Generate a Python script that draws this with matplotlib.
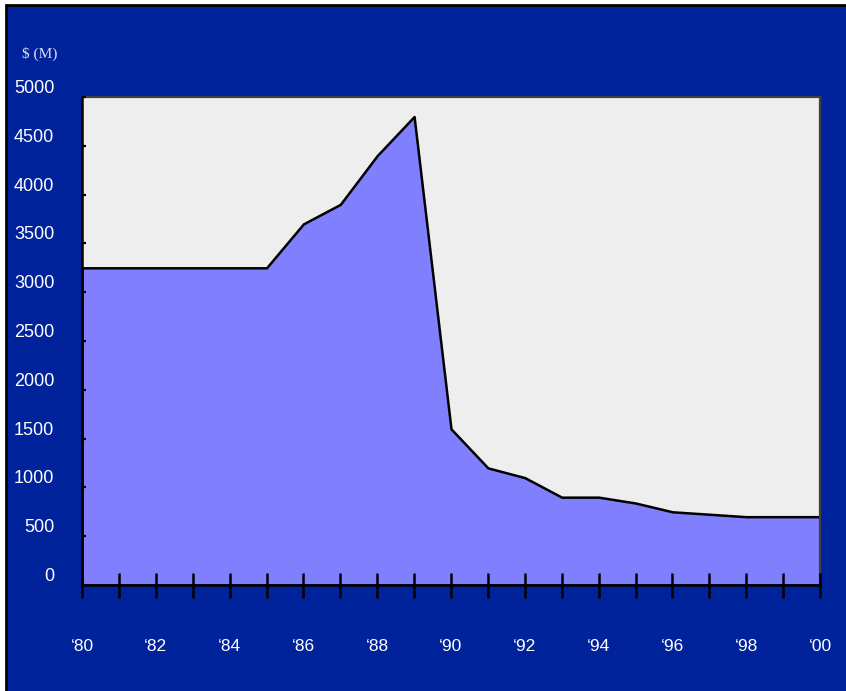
import matplotlib
matplotlib.use('Agg')
import matplotlib.pyplot as plt
from matplotlib.patches import Rectangle
from matplotlib.ticker import MultipleLocator

# data ($ millions per year)
years = list(range(1980, 2001))
values = [3250, 3250, 3250, 3250, 3250, 3250, 3700, 3900, 4400, 4800,
          1600, 1200, 1100, 900, 900, 840, 750, 725, 700, 700, 700]
year_labels = ['\u2018' + str(y)[2:] for y in range(1980, 2001, 2)]
y_ticks = list(range(0, 5001, 500))

blue = '#00239B'
W, H = 846, 691

fig = plt.figure(figsize=(W / 100, H / 100), dpi=100, facecolor='white')
# slide background with black border on left/top
fig.add_artist(Rectangle((6 / W, -0.01), 1.0, 1 - 5 / H + 0.01,
                         transform=fig.transFigure, facecolor=blue,
                         edgecolor='black', linewidth=2, zorder=-5))

ax = fig.add_axes([82 / W, 1 - 585 / H, (820 - 82) / W, (585 - 97) / H])
ax.set_facecolor('#EEEEEE')
ax.set_axisbelow(False)

ax.fill_between(years, values, 0, facecolor='#8080FF', edgecolor='black',
                linewidth=1.8, zorder=2)

ax.set_xlim(1980, 2000)
ax.set_ylim(0, 5000)

for side in ['top', 'right']:
    ax.spines[side].set_color('#404040')
    ax.spines[side].set_linewidth(1.6)
for side in ['left', 'bottom']:
    ax.spines[side].set_color('black')
    ax.spines[side].set_linewidth(1.8)
    ax.spines[side].set_zorder(3)

ax.xaxis.set_major_locator(MultipleLocator(2))
ax.xaxis.set_minor_locator(MultipleLocator(1))
ax.set_xticks(range(1980, 2001, 2))
ax.set_xticklabels(year_labels)
ax.tick_params(axis='x', which='both', direction='inout', length=18,
               width=1.8, color='black', pad=30, labelsize=12.5,
               labelcolor='white')
ax.tick_params(axis='x', which='minor', labelbottom=False)

ax.set_yticks(y_ticks)
ax.set_yticklabels([str(v) for v in y_ticks])
ax.tick_params(axis='y', direction='in', length=3, width=1.6, color='black',
               pad=20, labelsize=13, labelcolor='white')
for lab in ax.get_yticklabels():
    lab.set_va('bottom')

for lab in ax.get_xticklabels() + ax.get_yticklabels():
    lab.set_fontfamily('Liberation Sans')

fig.text(22 / W, 1 - 54 / H, '$ (M)', family='Liberation Serif', fontsize=11,
         color='#DCDCF5', va='center', ha='left')

fig.savefig('out.png', dpi=100, facecolor=fig.get_facecolor())
